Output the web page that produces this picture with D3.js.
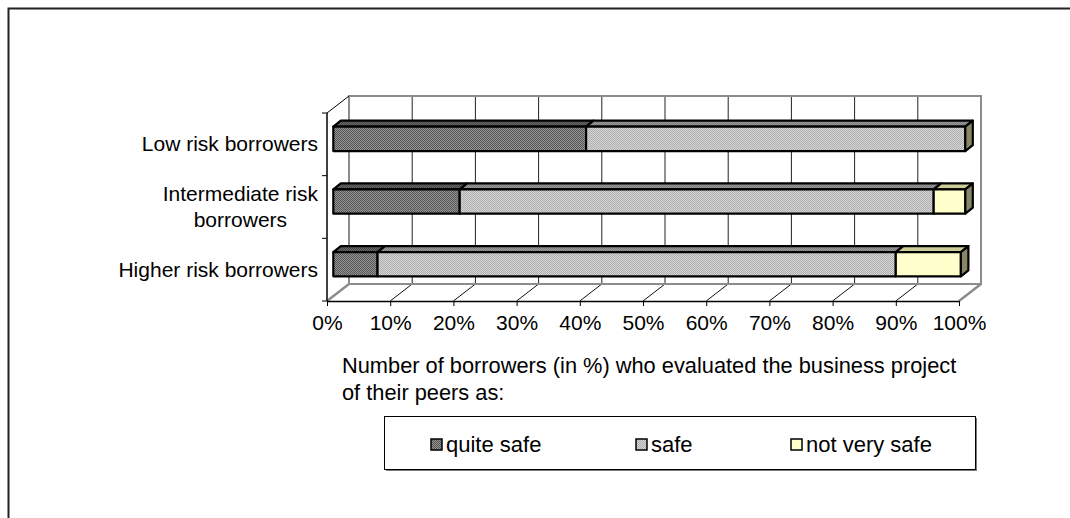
<!DOCTYPE html>
<html>
<head>
<meta charset="utf-8">
<script src="https://cdn.jsdelivr.net/npm/d3@7"></script>
<style>
  html, body { margin: 0; padding: 0; background: #fff; }
  svg { display: block; }
  text { font-family: "Liberation Sans", Arial, sans-serif; fill: #000; }
</style>
</head>
<body>
<svg id="chart" width="1070" height="518"></svg>
<script>
// Borrower groups (top to bottom) and their peer evaluations, in percent
const categories = ["Low risk borrowers", "Intermediate risk borrowers", "Higher risk borrowers"];
const categoryLines = [["Low risk borrowers"], ["Intermediate risk", "borrowers"], ["Higher risk borrowers"]];
const seriesNames = ["quite safe", "safe", "not very safe"];
const quiteSafe = [40, 20, 7];
const safe = [60, 75, 82];
const notVerySafe = [0, 5, 10.3];
const tickValues = [0, 10, 20, 30, 40, 50, 60, 70, 80, 90, 100];
const titleLines = ["Number of borrowers (in %) who evaluated the business project", "of their peers as:"];

const svg = d3.select("#chart");
const FONT = 21;
const TITLE_FONT = 21.8;
const LEGEND_FONT = 22;

// Patterned fills
const defs = svg.append("defs");
function checker(id, a, b) {
  const p = defs.append("pattern").attr("id", id).attr("width", 2).attr("height", 2)
    .attr("patternUnits", "userSpaceOnUse");
  p.append("rect").attr("width", 2).attr("height", 2).attr("fill", a);
  p.append("rect").attr("width", 1).attr("height", 1).attr("fill", b);
  p.append("rect").attr("x", 1).attr("y", 1).attr("width", 1).attr("height", 1).attr("fill", b);
}
checker("pQuite", "#959595", "#555555");
checker("pQuiteTop", "#6a6a6a", "#444444");
checker("pSafe", "#d4d4d4", "#b0b0b0");
checker("pSafeTop", "#9a9a9a", "#7c7c7c");

const styles = [
  { front: "url(#pQuite)", top: "url(#pQuiteTop)" },
  { front: "url(#pSafe)", top: "url(#pSafeTop)" },
  { front: "#ffffcc", top: "#cccc99" }
];
const endFill = "#878768";

// Outer frame
svg.append("rect").attr("x", 8.5).attr("y", 8.5).attr("width", 1200).attr("height", 700)
  .attr("fill", "none").attr("stroke", "#222").attr("stroke-width", 2);

// 3-D plot geometry
const depthDX = 22, depthDY = -17;
const x = d3.scaleLinear().domain([0, 100]).range([327, 959]);   // front edge of the floor
const y = d3.scaleBand().domain(categories).range([113, 301]);
const floorY = y.range()[1];
const topY = y.range()[0];
const bw = y.bandwidth();

const g = svg.append("g");

// Back wall
g.append("rect")
  .attr("x", x(0) + depthDX).attr("y", topY + depthDY)
  .attr("width", x(100) - x(0)).attr("height", floorY - topY)
  .attr("fill", "#fff").attr("stroke", "none");

// Vertical gridlines on the back wall
g.selectAll("line.grid").data(tickValues.slice(1, -1)).join("line")
  .attr("x1", d => x(d) + depthDX).attr("x2", d => x(d) + depthDX)
  .attr("y1", topY + depthDY).attr("y2", floorY + depthDY)
  .attr("stroke", "#222").attr("stroke-width", 1);

// Floor diagonals
g.selectAll("line.floor").data(tickValues.slice(1, -1)).join("line")
  .attr("x1", d => x(d)).attr("y1", floorY)
  .attr("x2", d => x(d) + depthDX).attr("y2", floorY + depthDY)
  .attr("stroke", "#111").attr("stroke-width", 1);

// Wall edges (grey)
const wallGrey = "#8c8c8c";
g.append("rect")
  .attr("x", x(0) + depthDX).attr("y", topY + depthDY)
  .attr("width", x(100) - x(0)).attr("height", floorY - topY)
  .attr("fill", "none").attr("stroke", wallGrey).attr("stroke-width", 2);
[0, 100].forEach(v => {
  g.append("line")
    .attr("x1", x(v)).attr("y1", floorY)
    .attr("x2", x(v) + depthDX).attr("y2", floorY + depthDY)
    .attr("stroke", wallGrey).attr("stroke-width", 2.5);
});
// Left wall top edge
g.append("line")
  .attr("x1", x(0)).attr("y1", topY)
  .attr("x2", x(0) + depthDX).attr("y2", topY + depthDY)
  .attr("stroke", "#000").attr("stroke-width", 1);

// Bars
const barDX = 7.5, barDY = -6;
const barShift = 6.3;            // bar front face sits a little behind the floor edge
const barTop = 0.219 * bw, barH = 0.388 * bw;
const rows = categories.map((c, i) => {
  const vals = [quiteSafe[i], safe[i], notVerySafe[i]];
  let acc = 0;
  const segs = vals.map((v, k) => { const s = { k, x0: acc, x1: acc + v }; acc += v; return s; })
    .filter(s => s.x1 > s.x0);
  return { c, segs, total: acc };
});

const bars = g.append("g").attr("stroke", "#000").attr("stroke-width", 2.2)
  .attr("stroke-linejoin", "round");
rows.forEach(r => {
  const yb = y(r.c) + barTop;
  r.segs.forEach(s => {
    const xa = x(s.x0) + barShift, xb = x(s.x1) + barShift;
    // top face
    bars.append("path")
      .attr("d", `M${xa},${yb}L${xa + barDX},${yb + barDY}L${xb + barDX},${yb + barDY}L${xb},${yb}Z`)
      .attr("fill", styles[s.k].top);
    // front face
    bars.append("rect").attr("x", xa).attr("y", yb)
      .attr("width", xb - xa).attr("height", barH)
      .attr("fill", styles[s.k].front);
  });
  const xe = x(r.total) + barShift;
  bars.append("path")
    .attr("d", `M${xe},${yb}L${xe + barDX},${yb + barDY}L${xe + barDX},${yb + barH + barDY}L${xe},${yb + barH}Z`)
    .attr("fill", endFill);
});

// X axis
const xAxis = d3.axisBottom(x).tickValues(tickValues).tickFormat(d => d + "%")
  .tickSizeInner(5).tickSizeOuter(0).tickPadding(9);
const xg = svg.append("g").attr("transform", `translate(0,${floorY})`).call(xAxis);
xg.select(".domain").attr("stroke", "#000").attr("stroke-width", 1.5);
xg.selectAll(".tick line").attr("stroke", "#000").attr("stroke-width", 1);
xg.selectAll(".tick text").attr("font-size", FONT).attr("font-family", null)
  .attr("fill", "#000");

// Y axis: vertical line with ticks at category boundaries
const yTicks = categories.map(c => y(c)).concat([floorY]);
svg.append("line").attr("x1", x(0)).attr("x2", x(0)).attr("y1", topY).attr("y2", floorY)
  .attr("stroke", "#000").attr("stroke-width", 1.5);
svg.selectAll("line.ytick").data(yTicks).join("line")
  .attr("x1", x(0) - 5).attr("x2", x(0)).attr("y1", d => d).attr("y2", d => d)
  .attr("stroke", "#000").attr("stroke-width", 1);

// Category labels (multi-line ones centred on their widest line)
const labelRight = x(0) - 9;
const lineH = 26.5;
categories.forEach((c, i) => {
  const lines = categoryLines[i];
  const cy = y(c) + bw / 2;
  const t = svg.append("text").attr("font-size", FONT).attr("text-anchor", "middle");
  lines.forEach((ln, j) => {
    t.append("tspan").attr("x", 0)
      .attr("y", cy + 7 + (j - (lines.length - 1) / 2) * lineH).text(ln);
  });
  const w = d3.max(t.selectAll("tspan").nodes(), n => n.getComputedTextLength());
  t.selectAll("tspan").attr("x", labelRight - w / 2);
});

// Axis title
const title = svg.append("text").attr("font-size", TITLE_FONT);
titleLines.forEach((ln, j) => {
  title.append("tspan").attr("x", 342).attr("y", 373 + j * 26.7).text(ln);
});

// Legend
const lg = svg.append("g");
lg.append("rect").attr("x", 386).attr("y", 418).attr("width", 591).attr("height", 53)
  .attr("fill", "#7a7a7a");
lg.append("rect").attr("x", 384.5).attr("y", 416.5).attr("width", 591).attr("height", 53)
  .attr("fill", "#fff").attr("stroke", "#000").attr("stroke-width", 1);
const legendX = [431, 636, 791];
seriesNames.forEach((name, k) => {
  lg.append("rect").attr("x", legendX[k]).attr("y", 439).attr("width", 11).attr("height", 11)
    .attr("fill", styles[k].front).attr("stroke", "#000").attr("stroke-width", 1.5);
  lg.append("text").attr("x", legendX[k] + 15).attr("y", 451.5).attr("font-size", LEGEND_FONT).text(name);
});
</script>
</body>
</html>
